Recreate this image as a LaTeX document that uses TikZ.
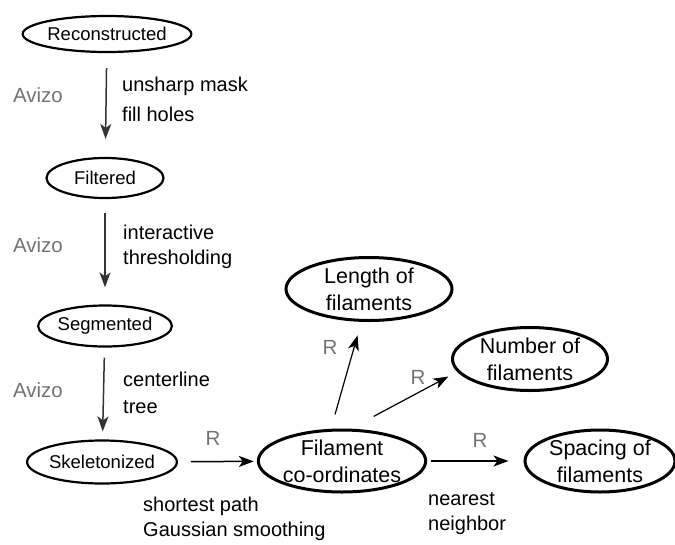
\documentclass[tikz,border=0pt]{standalone}
\usepackage{fontspec}
\setmainfont{Liberation Sans}
\usetikzlibrary{arrows.meta,shapes.geometric}
\tikzset{
  stage/.style={draw, ellipse, line width=2.2pt, inner sep=0pt,
    font=\fontsize{18.5}{22}\selectfont},
  result/.style={draw, ellipse, line width=3pt, inner sep=0pt, align=center,
    font=\fontsize{21.5}{27}\selectfont},
  flow/.style={-{Stealth[length=15pt,width=11pt,inset=4pt]}, line width=1.5pt},
  tool/.style={font=\fontsize{20.5}{25}\selectfont, text=black!55, inner sep=0pt},
  note/.style={font=\fontsize{20}{25}\selectfont, align=left, anchor=west, inner sep=0pt},
}

\begin{document}
\begin{tikzpicture}[x=1pt, y=-1pt]
\useasboundingbox (0,0) rectangle (675,544);

% Avizo pipeline
\node[stage, minimum width=141pt, minimum height=36pt] (recon) at (107,34) {Reconstructed};
\node[stage, minimum width=117pt, minimum height=40pt] (filt) at (105,178) {Filtered};
\node[stage, minimum width=115pt, minimum height=41pt] (seg) at (105,326) {Segmented};
\node[stage, minimum width=131pt, minimum height=43pt] (skel) at (102,462) {Skeletonized};

\draw[flow, black!80, shorten <=15pt, shorten >=18pt] (recon) -- (filt);
\draw[flow, black!80, shorten <=14pt, shorten >=17pt] (filt) -- (seg);
\draw[flow, black!80, shorten <=10pt, shorten >=8pt] (seg) -- (skel);

\node[tool] (avizo1) at (38,95) {Avizo};
\node[tool] (avizo2) at (38,245) {Avizo};
\node[tool] (avizo3) at (38,390) {Avizo};

\node[note] (filtnote) at (122,99) {unsharp mask\\[5pt]fill holes};
\node[note] (segnote) at (123,247) {interactive\\thresholding};
\node[note] (skelnote) at (123,393) {centerline\\[2pt]tree};

% R analysis
\node[result, minimum width=162pt, minimum height=62pt] (fil) at (342,461) {Filament\\co-ordinates};
\node[result, minimum width=166pt, minimum height=63pt] (len) at (369,289) {Length of\\filaments};
\node[result, minimum width=155pt, minimum height=63pt] (num) at (530,359) {Number of\\filaments};
\node[result, minimum width=150pt, minimum height=62pt] (spc) at (600,461) {Spacing of\\filaments};

\draw[flow, shorten <=13pt, shorten >=3pt] (skel) -- (fil);
\draw[flow, line width=1.2pt, shorten <=15pt, shorten >=14pt] (fil.109) -- (len.257);
\draw[flow, line width=1.2pt, shorten <=26pt, shorten >=10pt] (fil.75) -- (num.190);
\draw[flow, shorten <=4pt, shorten >=15pt] (fil.east) -- (fil.east -| spc.west);

\node[tool] (r1) at (213,438) {R};
\node[tool] (r2) at (330,347) {R};
\node[tool] (r3) at (418,377) {R};
\node[tool] (r4) at (480,440) {R};

\node[note] (filnote) at (143,519) {shortest path\\Gaussian smoothing};
\node[note] (spcnote) at (428,514) {nearest\\neighbor};

\end{tikzpicture}
\end{document}
